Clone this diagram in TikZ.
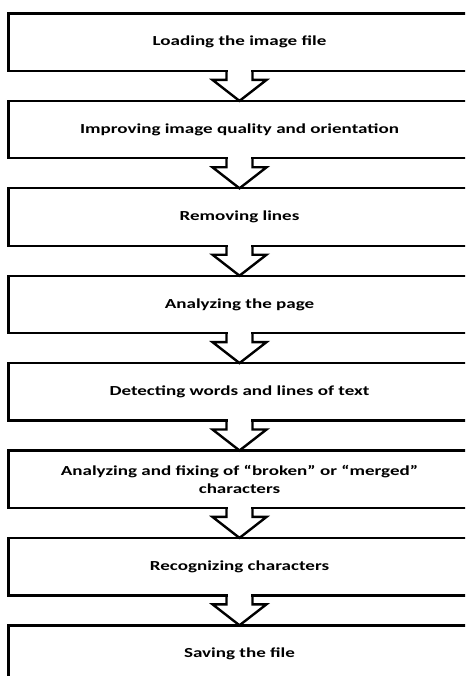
\documentclass[tikz,border=0pt]{standalone}
\usepackage{fontspec}
\newfontfamily\boxfont[FakeStretch=1.38]{Carlito}
\begin{document}
\begin{tikzpicture}[x=1pt,y=-1pt,
  stepbox/.style={draw=black, line width=2.4pt, fill=white, minimum width=462pt,
    minimum height=57.4pt, inner sep=0pt, outer sep=0pt, align=center,
    font=\boxfont\bfseries\fontsize{13.8}{18}\selectfont},
  blockarr/.style={draw=black, line width=2.4pt, line join=miter}]
\useasboundingbox (0,0) rectangle (465,676);
\clip (0,0) rectangle (465,676);
\node[stepbox] (b1) at (239.5,42.2) {Loading the image file};
\node[stepbox] (b2) at (239.5,129.6) {Improving image quality and orientation};
\node[stepbox] (b3) at (239.5,217.0) {Removing lines};
\node[stepbox] (b4) at (239.5,304.4) {Analyzing the page};
\node[stepbox] (b5) at (239.5,391.8) {Detecting words and lines of text};
\node[stepbox] (b6) at (239.5,479.2) {Analyzing and fixing of “broken” or “merged”\\characters};
\node[stepbox] (b7) at (239.5,566.6) {Recognizing characters};
\node[stepbox] (b8) at (239.5,654.0) {Saving the file};
\foreach \a/\b in {b1/b2,b2/b3,b3/b4,b4/b5,b5/b6,b6/b7,b7/b8}{
  \fill[white] ([xshift=-11.8pt,yshift=2pt]\a.south) rectangle ([xshift=11.8pt,yshift=-2pt]\a.south);
  \draw[blockarr] ([xshift=-13pt]\a.south) -- ([xshift=-13pt,yshift=-9pt]\a.south)
    -- ([xshift=-27pt,yshift=-9pt]\a.south) -- (\b.north)
    -- ([xshift=27pt,yshift=-9pt]\a.south) -- ([xshift=13pt,yshift=-9pt]\a.south)
    -- ([xshift=13pt]\a.south);
}
\end{tikzpicture}
\end{document}
